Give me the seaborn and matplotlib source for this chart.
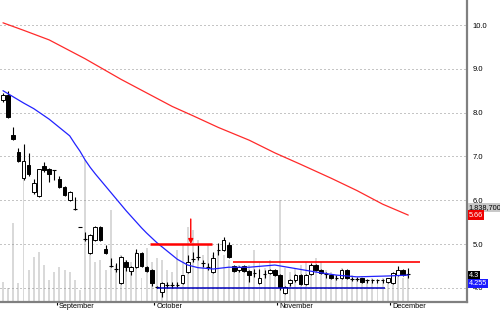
import numpy as np
import pandas as pd
import matplotlib
matplotlib.use("Agg")
import matplotlib.pyplot as plt
import matplotlib.transforms as mtransforms
from matplotlib.patches import Rectangle
import seaborn as sns

# ---------------- data ----------------
opens = [8.29, 8.40, 7.49, 7.10, 6.51, 6.80, 6.19, 6.10, 6.78, 6.71,
         6.69, 6.48, 6.30, 6.00, 5.81, 5.39, 5.12, 4.79, 5.09, 5.39,
         4.89, 4.51, 4.43, 4.11, 4.59, 4.38, 4.47, 4.79, 4.47, 4.41,
         4.03, 3.90, 4.06, 4.07, 4.08, 4.11, 4.36, 4.66, 4.70, 4.56,
         4.49, 4.36, 4.86, 4.86, 4.98, 4.50, 4.41, 4.50, 4.38, 4.35,
         4.11, 4.31, 4.33, 4.41, 4.29, 3.88, 4.11, 4.18, 4.29, 4.09,
         4.31, 4.52, 4.41, 4.31, 4.29, 4.24, 4.22, 4.41, 4.21, 4.21,
         4.22, 4.18, 4.18, 4.18, 4.18, 4.13, 4.11, 4.29, 4.41, 4.30]
highs = [8.45, 8.49, 7.67, 7.19, 7.28, 7.08, 6.48, 6.72, 6.87, 6.73,
         6.70, 6.55, 6.33, 6.20, 6.07, 5.39, 5.27, 5.22, 5.40, 5.40,
         4.98, 4.68, 4.57, 4.72, 4.63, 4.50, 4.89, 4.81, 4.50, 4.43,
         4.05, 4.13, 4.13, 4.13, 4.13, 4.30, 4.75, 4.82, 4.98, 4.63,
         4.57, 4.82, 5.02, 5.15, 5.05, 4.52, 4.50, 4.52, 4.41, 4.43,
         4.43, 4.41, 4.43, 4.43, 4.31, 4.04, 4.20, 4.31, 4.31, 4.31,
         4.57, 4.54, 4.43, 4.36, 4.31, 4.29, 4.43, 4.43, 4.25, 4.25,
         4.23, 4.20, 4.20, 4.20, 4.20, 4.23, 4.36, 4.50, 4.43, 4.45]
lows = [8.25, 7.88, 7.38, 6.87, 6.45, 6.55, 6.15, 6.08, 6.65, 6.42,
        6.45, 6.28, 6.10, 5.98, 5.78, 5.38, 5.07, 4.77, 5.07, 5.07,
        4.77, 4.47, 4.36, 4.08, 4.38, 4.30, 4.45, 4.48, 4.36, 4.05,
        4.00, 3.79, 4.00, 4.00, 4.01, 4.09, 4.34, 4.59, 4.63, 4.47,
        4.41, 4.34, 4.75, 4.84, 4.68, 4.36, 4.36, 4.36, 4.13, 4.25,
        4.09, 4.23, 4.31, 4.27, 3.95, 3.86, 4.05, 4.13, 4.07, 4.07,
        4.29, 4.39, 4.32, 4.22, 4.20, 4.18, 4.20, 4.20, 4.15, 4.15,
        4.11, 4.11, 4.11, 4.11, 4.11, 4.11, 4.09, 4.27, 4.27, 4.22]
closes = [8.40, 7.90, 7.40, 6.89, 6.89, 6.60, 6.39, 6.71, 6.69, 6.60,
          6.68, 6.30, 6.12, 6.19, 5.80, 5.38, 5.10, 5.21, 5.39, 5.09,
          4.79, 4.50, 4.42, 4.70, 4.47, 4.47, 4.79, 4.50, 4.38, 4.11,
          4.02, 4.11, 4.05, 4.06, 4.07, 4.29, 4.59, 4.65, 4.71, 4.55,
          4.48, 4.68, 4.85, 5.09, 4.70, 4.38, 4.47, 4.38, 4.29, 4.34,
          4.22, 4.30, 4.41, 4.29, 4.02, 4.02, 4.18, 4.29, 4.09, 4.29,
          4.52, 4.41, 4.34, 4.30, 4.22, 4.23, 4.41, 4.22, 4.20, 4.20,
          4.13, 4.17, 4.17, 4.17, 4.17, 4.22, 4.34, 4.41, 4.29, 4.31]
volumes_m = [1.00, 0.70, 3.95, 0.95, 6.25, 1.60, 2.25, 2.50, 1.85, 1.10,
             1.50, 1.75, 1.60, 1.50, 1.10, 0.60, 7.10, 2.60, 2.00, 2.10,
             1.60, 4.60, 1.85, 2.35, 2.10, 2.00, 2.50, 1.20, 2.70, 2.00,
             2.20, 2.10, 1.60, 1.50, 2.60, 2.85, 3.75, 3.60, 3.10, 2.35,
             2.85, 2.35, 2.60, 2.35, 2.10, 1.60, 1.85, 1.60, 1.85, 2.60,
             2.00, 1.70, 2.10, 1.60, 5.10, 1.70, 1.50, 1.70, 1.85, 2.00,
             1.85, 2.20, 2.00, 1.60, 1.50, 1.35, 1.70, 1.50, 1.35, 1.20,
             1.30, 1.10, 1.20, 1.10, 1.20, 1.00, 1.25, 1.25, 1.20, 1.30]

ma_short_days = [0, 2, 4, 6, 9, 11, 13, 14, 15, 16, 17, 18, 19, 20, 21, 22,
                 23, 24, 25, 26, 27, 28, 29, 30, 32, 34, 36, 38, 41, 44, 48,
                 53, 58, 61, 65, 69, 75, 79]
ma_short_vals = [8.50, 8.36, 8.22, 8.09, 7.85, 7.66, 7.47, 7.29, 7.12, 6.92,
                 6.75, 6.60, 6.46, 6.32, 6.18, 6.04, 5.90, 5.76, 5.63, 5.50,
                 5.37, 5.25, 5.14, 5.03, 4.84, 4.65, 4.52, 4.46, 4.43, 4.47,
                 4.47, 4.52, 4.42, 4.36, 4.29, 4.25, 4.27, 4.29]
ma_long_days = [0, 4, 9, 16, 23, 28, 33, 37, 42, 48, 53, 58, 64, 69, 74, 79]
ma_long_vals = [10.05, 9.88, 9.66, 9.23, 8.76, 8.45, 8.14, 7.93, 7.66, 7.37,
                7.08, 6.82, 6.50, 6.22, 5.91, 5.66]

months = ["September", "October", "November", "December"]
month_first_day = [11, 30, 54, 76]
price_ticks = [4.0, 5.0, 6.0, 7.0, 8.0, 9.0, 10.0]

resistance1 = (5.00, 28.7, 40.7)
resistance2 = (4.59, 44.8, 81.3)
support = (4.00, 30.0, 74.5)
arrow_day, arrow_top, arrow_tip = 36.6, 5.57, 5.00

last_volume_label = "1,838,700"
last_long_ma, last_close, last_short_ma = 5.66, 4.3, 4.255

# ---------------- figure ----------------
sns.set_theme(style="white")
plt.rcParams['font.family'] = ['Liberation Sans', 'DejaVu Sans']

W, H = 500, 312
fig = plt.figure(figsize=(W / 100, H / 100), dpi=100)
fig.patch.set_facecolor("white")
rect = [0, 10 / H, 467 / W, 302 / H]
axv = fig.add_axes(rect)
ax = fig.add_axes(rect, sharex=axv)
ax.patch.set_visible(False)

n = len(opens)
days = np.arange(n)
xlim = (-0.585, 90.45)

# volume bars
df_vol = pd.DataFrame({"day": days, "vol": volumes_m})
sns.barplot(data=df_vol, x="day", y="vol", native_scale=True, color="#d9d9d9",
            saturation=1, width=0.38, linewidth=0, ax=axv)
axv.set_ylim(0, 15.1)
axv.set_xlim(*xlim)
axv.set_axis_off()

# grid
for v in price_ticks:
    ax.axhline(v, color="#8c8c8c", lw=0.72, ls=(0, (1, 3)), zorder=0)

# candles
bw = 0.72
for i in range(n):
    o, h, l, c = opens[i], highs[i], lows[i], closes[i]
    ax.vlines(i, l, h, color="black", lw=0.8, zorder=3)
    lo, hi = min(o, c), max(o, c)
    if hi - lo < 0.025:
        ax.hlines((o + c) / 2, i - bw / 2, i + bw / 2, color="black", lw=0.8, zorder=4)
    else:
        fc = "white" if c >= o else "black"
        ax.add_patch(Rectangle((i - bw / 2, lo), bw, hi - lo, facecolor=fc,
                               edgecolor="black", lw=0.7, zorder=4))

# moving averages
sns.lineplot(x=ma_long_days, y=ma_long_vals, color="#ff2a2a", lw=0.9, ax=ax, zorder=5)
sns.lineplot(x=ma_short_days, y=ma_short_vals, color="#2222ff", lw=0.9, ax=ax, zorder=5)

# trend lines
ax.hlines(resistance1[0], resistance1[1], resistance1[2], color="#ff0000", lw=1.8, zorder=6)
ax.hlines(resistance2[0], resistance2[1], resistance2[2], color="#ff0000", lw=1.2, zorder=6)
ax.hlines(support[0], support[1], support[2], color="#0000bb", lw=1.1, zorder=6)
ax.annotate("", xy=(arrow_day, arrow_tip), xytext=(arrow_day, arrow_top),
            arrowprops=dict(arrowstyle="-|>", color="#ff0000", lw=1.0,
                            mutation_scale=7, shrinkA=0, shrinkB=0), zorder=7)

ax.set_xlim(*xlim)
ax.set_ylim(3.676, 10.571)

# axes styling
ax.yaxis.tick_right()
ax.set_yticks(price_ticks)
ax.set_yticklabels([f"{v:.1f}" for v in price_ticks])
ax.tick_params(axis="y", length=0, pad=4, labelsize=5.5, labelcolor="black")
tick_pos = [d - 0.5 for d in month_first_day]
ax.set_xticks(tick_pos)
ax.tick_params(axis="x", length=2.5, width=0.8, color="black", direction="out",
               labelbottom=False, bottom=True)
for s in ["top", "left"]:
    ax.spines[s].set_visible(False)
for s in ["right", "bottom"]:
    ax.spines[s].set_visible(True)
    ax.spines[s].set_color("#808080")
    ax.spines[s].set_linewidth(1.6)
ax.set_xlabel("")
ax.set_ylabel("")

trans_x = mtransforms.blended_transform_factory(ax.transData, ax.transAxes)
off = mtransforms.ScaledTranslation(2 / 100, -0.5 / 100, fig.dpi_scale_trans)
for p, name in zip(tick_pos, months):
    ax.text(p, 0, name, transform=trans_x + off, ha="left", va="top",
            fontsize=5.3, color="black", clip_on=False)

# right-side value tags
trans_y = mtransforms.blended_transform_factory(ax.transAxes, ax.transData)
def tag(y, txt, bg, fg):
    ax.text(1.004, y, txt, transform=trans_y, ha="left", va="center",
            fontsize=5.3, color=fg, clip_on=False, zorder=10,
            bbox=dict(boxstyle="square,pad=0.15", facecolor=bg, edgecolor="none"))

tag(5.84, last_volume_label, "#c8c8c8", "black")
tag(last_long_ma, f"{last_long_ma:.2f}", "#ee0000", "white")
tag(4.29, f"{last_close}", "black", "white")
tag(4.09, f"{last_short_ma}", "#1a1aff", "white")

fig.savefig("out.png", dpi=100)
